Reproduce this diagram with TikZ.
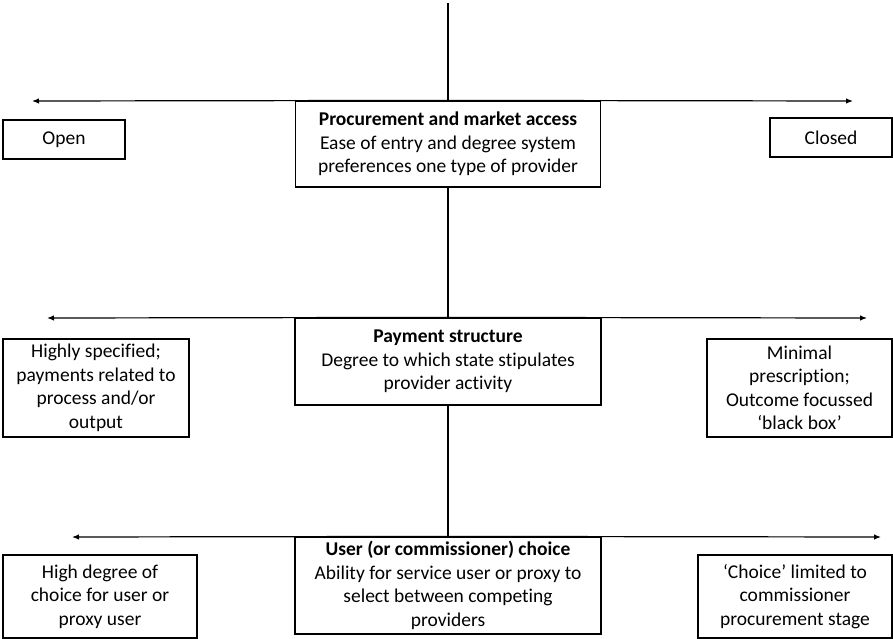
\documentclass[tikz,border=0pt]{standalone}
\usepackage{fontspec}
\setmainfont{Carlito}[Ligatures=NoCommon]
\usetikzlibrary{arrows.meta}
\begin{document}
\begin{tikzpicture}[x=1pt,y=-1pt,
  box/.style={draw=black,line width=1.2pt,fill=white,align=center,inner sep=0pt,
    font=\fontsize{19.5}{23.5}\selectfont},
  line/.style={draw=black,line width=1.2pt},
  arr/.style={line,-{Latex[length=7pt,width=5.5pt]}}]
\useasboundingbox (0,0) rectangle (893,639);
% central boxes
\node[box,minimum width=305,minimum height=86] (b1) at (448,144)
  {\textbf{Procurement and market access}\\Ease of entry and degree system\\preferences one type of provider};
\node[box,minimum width=306,minimum height=87] (b2) at (448,361.5)
  {\textbf{Payment structure}\\Degree to which state stipulates\\provider activity};
\node[box,minimum width=306,minimum height=97] (b3) at (448,585.5)
  {\textbf{User (or commissioner) choice}\\Ability for service user or proxy to\\select between competing\\providers};
% side boxes
\node[box,minimum width=122,minimum height=39] (open) at (64,139.5) {Open};
\node[box,minimum width=122,minimum height=39] (closed) at (831,137.5) {Closed};
\node[box,minimum width=186,minimum height=98] (l2) at (96,388)
  {Highly specified;\\payments related to\\process and/or\\output};
\node[box,minimum width=185,minimum height=98] (r2) at (799.5,388)
  {Minimal\\prescription;\\Outcome focussed\\‘black box’};
\node[box,minimum width=194,minimum height=83] (l3) at (100,596.5)
  {High degree of\\choice for user or\\proxy user};
\node[box,minimum width=194,minimum height=83] (r3) at (795,596.5)
  {‘Choice’ limited to\\commissioner\\procurement stage};
% coordinates
\coordinate (top) at (448,3);
\coordinate (a1l) at (32,101);
\coordinate (a1r) at (853,101);
\coordinate (a2l) at (47,318);
\coordinate (a2r) at (867,318);
\coordinate (a3l) at (72,537);
\coordinate (a3r) at (881,537);
% vertical spine
\draw[line] (top) -- (b1.north);
\draw[line] (b1.south) -- (b2.north);
\draw[line] (b2.south) -- (b3.north);
% horizontal arrows
\draw[arr] (b1.north) -- (a1l);
\draw[arr] (b1.north) -- (a1r);
\draw[arr] (b2.north) -- (a2l);
\draw[arr] (b2.north) -- (a2r);
\draw[arr] (b3.north) -- (a3l);
\draw[arr] (b3.north) -- (a3r);
\end{tikzpicture}
\end{document}
